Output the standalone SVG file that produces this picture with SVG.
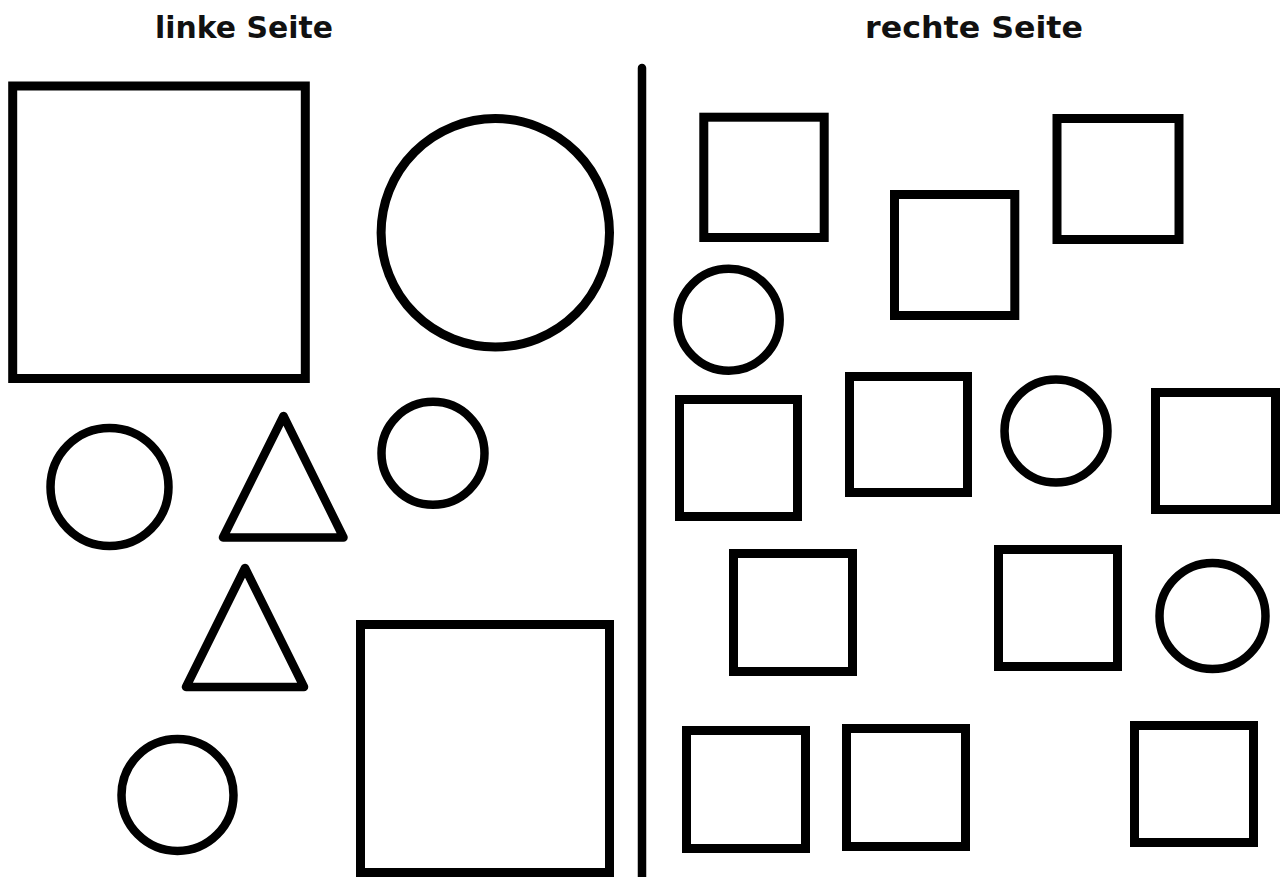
<svg xmlns="http://www.w3.org/2000/svg" width="1282" height="877" viewBox="0 0 1282 877">
<style>
.s{fill:none;stroke:#000;stroke-width:9}
.t{fill:none;stroke:#000;stroke-width:8.5;stroke-linejoin:round}
.c{fill:none;stroke:#000;stroke-width:8.5}
.lbl{font-family:"DejaVu Sans","Liberation Sans",sans-serif;font-weight:bold;font-size:30px;fill:#111}
</style>
<rect width="1282" height="877" fill="#fff"/>
<g id="titles">
<text class="lbl" x="155" y="38" textLength="178" lengthAdjust="spacingAndGlyphs">linke Seite</text>
<text class="lbl" x="865" y="38" textLength="218" lengthAdjust="spacingAndGlyphs">rechte Seite</text>
</g>
<line id="divider" x1="642" y1="68" x2="642" y2="890" stroke="#000" stroke-width="8.5" stroke-linecap="round"/>
<g id="left">
<rect class="s" x="12.7" y="86" width="292.6" height="292.5"/>
<circle class="s" cx="495.3" cy="232.8" r="114.2"/>
<circle class="c" cx="109.5" cy="487" r="59"/>
<polygon class="t" points="283.5,416 223,537.5 343.5,537.5"/>
<circle class="c" cx="433" cy="453.3" r="51.5"/>
<polygon class="t" points="245,568 186,687 304,687"/>
<circle class="c" cx="177.5" cy="795" r="56"/>
<rect class="s" x="360.5" y="624.5" width="249" height="248"/>
</g>
<g id="right">
<rect class="s" x="703.8" y="117.2" width="120.4" height="120.3"/>
<rect class="s" x="894.5" y="194.5" width="120.3" height="121"/>
<rect class="s" x="1057" y="118.5" width="122" height="121"/>
<circle class="c" cx="728.7" cy="319.7" r="51"/>
<rect class="s" x="679.5" y="399.5" width="118" height="117"/>
<rect class="s" x="849.5" y="376.5" width="118" height="116"/>
<circle class="c" cx="1056" cy="431" r="51.5"/>
<rect class="s" x="1155.5" y="392.5" width="120" height="117"/>
<rect class="s" x="733.5" y="553.5" width="119" height="118"/>
<rect class="s" x="998.5" y="549.5" width="119" height="117"/>
<circle class="c" cx="1212.5" cy="616" r="53"/>
<rect class="s" x="686.5" y="730.5" width="119" height="118"/>
<rect class="s" x="846.5" y="728.5" width="119" height="118"/>
<rect class="s" x="1134.5" y="725.5" width="119" height="117"/>
</g>
</svg>
